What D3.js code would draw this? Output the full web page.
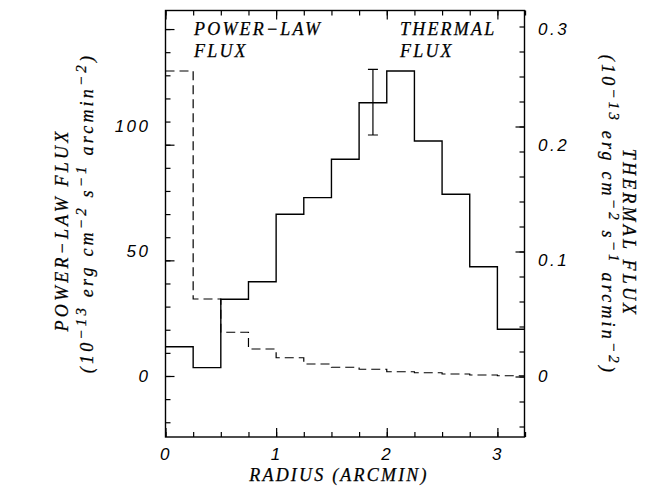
<!DOCTYPE html>
<html>
<head>
<meta charset="utf-8">
<script src="https://cdn.jsdelivr.net/npm/d3@7"></script>
<style>
body { margin: 0; background: #fff; }
svg { display: block; }
.lbl { font-family: "Liberation Sans", Arial, sans-serif; font-style: italic; font-size: 17px; letter-spacing: 2.5px; fill: #000; }
.ttl { font-family: "Liberation Serif", "Times New Roman", serif; font-style: italic; font-size: 18px; letter-spacing: 2.2px; fill: #000; stroke: #000; stroke-width: 0.25px; }
.vt { letter-spacing: 3.2px; }
</style>
</head>
<body>
<div id="chart"></div>
<script>
// radial profile, bins of 0.25 arcmin
var binEdges = [0, 0.25, 0.5, 0.75, 1, 1.25, 1.5, 1.75, 2, 2.25, 2.5, 2.75, 3, 3.25];
var thermalFlux = [0.0253, 0.0072, 0.0663, 0.0815, 0.1398, 0.1542, 0.1874, 0.2363, 0.2637, 0.2032, 0.1571, 0.0945, 0.0404];
var powerLawFlux = [122.2, 31.0, 17.7, 11.0, 7.5, 5.0, 3.7, 2.9, 1.9, 1.5, 1.0, 0.6, 0.3];
var errRadius = [1.875];
var errLow = [0.2084];
var errHigh = [0.2652];

var xTicks = [0, 1, 2, 3];
var powerLawTicks = [0, 50, 100];
var thermalTicks = [0, 0.1, 0.2, 0.3];

var width = 646, height = 490;
var margin = { top: 10.5, right: 121.5, bottom: 53, left: 165.5 };
var x0 = margin.left, x1 = width - margin.right,
    y0 = margin.top, y1 = height - margin.bottom;

var x = d3.scaleLinear().domain([0, 3.245]).range([x0, x1]);
var yP = d3.scaleLinear().domain([-24.2, 146.4]).range([y1, y0]);
var yT = d3.scaleLinear().domain([-0.05275, 0.31604]).range([y1, y0]);

var svg = d3.select("#chart").append("svg")
    .attr("width", width)
    .attr("height", height);

svg.append("clipPath").attr("id", "plotclip")
  .append("rect")
    .attr("x", x0).attr("y", y0)
    .attr("width", x1 - x0).attr("height", y1 - y0);

// tick marks (inward, major + minor)
function ticks(axis, vals, size, tx, ty) {
    var g = svg.append("g")
        .attr("transform", "translate(" + tx + "," + ty + ")")
        .call(axis.tickValues(vals).tickSize(size).tickFormat(""));
    g.select(".domain").remove();
    g.selectAll("line").attr("stroke", "#000").attr("stroke-width", 1.2);
}
var xMinor = d3.range(0, 14).map(i => i * 0.25);
ticks(d3.axisTop(x), xMinor, 5, 0, y1);
ticks(d3.axisTop(x), xTicks, 9, 0, y1);
ticks(d3.axisBottom(x), xMinor, 5, 0, y0);
ticks(d3.axisBottom(x), xTicks, 9, 0, y0);

ticks(d3.axisRight(yT), d3.range(-2, 16).map(i => i * 0.02), 5, x0, 0);
ticks(d3.axisRight(yT), thermalTicks, 9, x0, 0);
ticks(d3.axisLeft(yP), d3.range(-2, 15).map(i => i * 10), 5, x1, 0);
ticks(d3.axisLeft(yP), powerLawTicks, 9, x1, 0);

// tick labels
function labels(axis, pad, tx, ty) {
    var g = svg.append("g")
        .attr("transform", "translate(" + tx + "," + ty + ")")
        .call(axis.tickSize(0).tickPadding(pad));
    g.select(".domain").remove();
    g.attr("font-size", null).attr("font-family", null);
    g.selectAll("text").attr("class", "lbl");
}
labels(d3.axisLeft(yP).tickValues(powerLawTicks), 15, x0, 0);
labels(d3.axisRight(yT).tickValues(thermalTicks).tickFormat(d => d === 0 ? "0" : d3.format(".1f")(d)), 13.5, x1, 0);
labels(d3.axisBottom(x).tickValues(xTicks).tickFormat(d3.format("d")), 11, 0, y1);

// histograms
var stepLine = d3.line().curve(d3.curveStepAfter);

function steps(vals, yScale) {
    return binEdges.map((e, i) => [x(e), yScale(vals[Math.min(i, vals.length - 1)])]);
}

var plot = svg.append("g").attr("clip-path", "url(#plotclip)");

plot.append("path")
    .attr("d", stepLine(steps(powerLawFlux, yP)))
    .attr("fill", "none")
    .attr("stroke", "#000")
    .attr("stroke-width", 1.2)
    .attr("stroke-dasharray", "9,5");

plot.append("path")
    .attr("d", stepLine(steps(thermalFlux, yT)))
    .attr("fill", "none")
    .attr("stroke", "#000")
    .attr("stroke-width", 1.4);

// error bar
errRadius.forEach(function (r, i) {
    var g = plot.append("g").attr("stroke", "#000").attr("stroke-width", 1.2);
    g.append("line")
        .attr("x1", x(r)).attr("x2", x(r))
        .attr("y1", yT(errLow[i])).attr("y2", yT(errHigh[i]));
    [errLow[i], errHigh[i]].forEach(function (v) {
        g.append("line")
            .attr("x1", x(r) - 5).attr("x2", x(r) + 5)
            .attr("y1", yT(v)).attr("y2", yT(v));
    });
});

// frame
svg.append("rect")
    .attr("x", x0).attr("y", y0)
    .attr("width", x1 - x0).attr("height", y1 - y0)
    .attr("fill", "none")
    .attr("stroke", "#000")
    .attr("stroke-width", 1.4);

// annotations
svg.append("text").attr("class", "ttl").attr("x", 194).attr("y", 35).text("POWER\u2212LAW");
svg.append("text").attr("class", "ttl").attr("x", 194).attr("y", 57).text("FLUX");
svg.append("text").attr("class", "ttl").attr("x", 400).attr("y", 35).text("THERMAL");
svg.append("text").attr("class", "ttl").attr("x", 400).attr("y", 57).text("FLUX");

// axis titles
svg.append("text").attr("class", "ttl")
    .attr("x", 339).attr("y", 481)
    .attr("text-anchor", "middle")
    .text("RADIUS (ARCMIN)");

var unitParts = [["(10", 0], ["\u221213", 1], [" erg cm", 0], ["\u22122", 1], [" s", 0], ["\u22121", 1], [" arcmin", 0], ["\u22122", 1], [")", 0]];

function unitText(tx, ty, rot) {
    var t = svg.append("text").attr("class", "ttl vt")
        .attr("text-anchor", "middle")
        .attr("transform", "translate(" + tx + "," + ty + ") rotate(" + rot + ")");
    var prev = 0;
    unitParts.forEach(function (p) {
        var shift = (p[1] - prev) * -7;
        prev = p[1];
        t.append("tspan")
            .attr("dy", shift)
            .style("font-size", p[1] ? "15px" : null)
            .text(p[0]);
    });
}

svg.append("text").attr("class", "ttl vt")
    .attr("text-anchor", "middle")
    .attr("transform", "translate(68,230) rotate(-90)")
    .text("POWER\u2212LAW FLUX");
unitText(93, 213, -90);

svg.append("text").attr("class", "ttl vt")
    .attr("text-anchor", "middle")
    .attr("transform", "translate(623,233) rotate(90)")
    .text("THERMAL FLUX");
unitText(602, 215, 90);
</script>
</body>
</html>
